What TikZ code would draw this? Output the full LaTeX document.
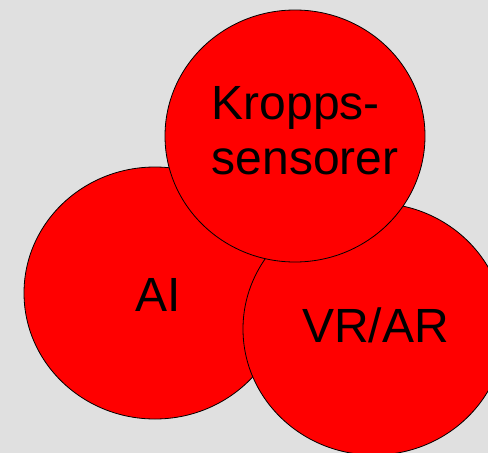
\documentclass[tikz,border=0pt]{standalone}
\usepackage{fontspec}
\setmainfont{Liberation Sans}
\definecolor{bggray}{HTML}{E0E0E0}
\definecolor{bubblered}{HTML}{FF0000}
\tikzset{
  bubble/.style={fill=bubblered, draw=black, line width=0.8pt},
  label/.style={inner sep=0pt, font=\fontsize{48}{57}\selectfont, text=black}
}
\begin{document}
\begin{tikzpicture}[x=1pt, y=-1pt]
  % canvas
  \fill[bggray] (0,0) rectangle (488,453);
  \useasboundingbox (0,0) rectangle (488,453);
  % three overlapping bubbles, back to front
  \path[bubble] (155,293) ellipse [x radius=131, y radius=126];
  \path[bubble] (374,329) ellipse [x radius=131, y radius=126];
  \path[bubble] (295,136) ellipse [x radius=130, y radius=126];
  % labels
  \node[label, anchor=base] (ai) at (158.5,311.7) {AI};
  \node[label, anchor=base] (vrar) at (375.5,342.7) {VR/AR};
  \node[label, anchor=base west] (kropps) at (211.5,119.3) {Kropps-};
  \node[label, anchor=base west] (sensorer) at (211.5,174) {sensorer};
\end{tikzpicture}
\end{document}
